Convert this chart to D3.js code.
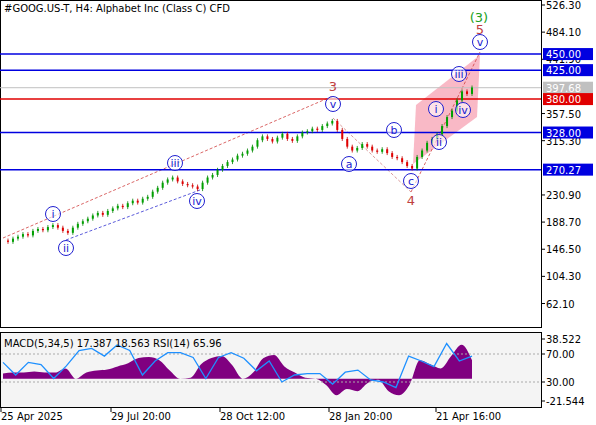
<!DOCTYPE html>
<html><head><meta charset="utf-8">
<script src="https://cdn.jsdelivr.net/npm/d3@7"></script>
<style>body{margin:0;background:#fff}text{font-family:Tahoma,"DejaVu Sans",sans-serif}</style>
</head><body><div id="chart"></div>
<script>
// price closes (H4, sampled)
const closes = [160,158,163,166,170,168,175,178,176,181,184,180,175,172,180,186,190,194,199,203,200,206,210,214,212,218,222,219,225,228,236,242,250,255,258,252,248,246,244,240,250,258,262,270,276,282,286,292,295,300,306,316,322,318,314,320,326,318,315,322,328,330,334,332,338,342,346,332,318,306,300,304,310,306,300,298,302,296,290,288,282,276,272,290,300,312,318,325,338,352,362,378,392,388,398];
const hist = [5,6,6,7,6,6,10,0,6,8,9,12,15,20,21,18,8,0,1,14,20,22,13,0,6,20,23,12,6,1,0,-6,-16,-10,-12,-4,-1,-12,-16,-6,18,14,10,22,33,18];
const rsi = [58,40,58,55,35,53,75,78,67,83,75,40,60,72,72,65,35,65,72,64,46,60,30,40,42,42,27,44,47,33,30,22,67,60,52,85,60,67];
const priceTicks = [526.30,484.10,441.90,357.50,315.30,230.90,188.70,146.50,104.30,62.10];
const levels = [{v:450,c:"#0000e0"},{v:425,c:"#0000e0"},{v:380,c:"#e00000"},{v:328,c:"#0000e0"},{v:270.27,c:"#0000e0"}];
const lastPrice = 397.68;
const dateLabels = [["25 Apr 2025",0],["29 Jul 20:00",110],["28 Oct 12:00",219],["28 Jan 20:00",328],["21 Apr 16:00",435]];
const waves = [
  ["i",53,214,"b"],["ii",66,248,"b"],["iii",175,163,"b"],["iv",197,201,"b"],["v",333,104,"b"],["3",333,87,"r"],
  ["a",349,164,"b"],["b",394,130,"b"],["c",411,181,"b"],["4",411,201,"r"],
  ["i",436,109,"b"],["ii",439,142,"b"],["iii",459,74,"b"],["iv",463,110,"b"],["v",480,42,"b"],["5",480,30,"r"],["(3)",479,18,"g"]];

const W=596,H=425,R=541;
const svg=d3.select("#chart").append("svg").attr("width",W).attr("height",H);
svg.append("rect").attr("width",W).attr("height",H).attr("fill","#fff");
const y=d3.scaleLinear().domain([62.10,526.30]).range([303.5,5]);
const x=d3.scaleLinear().domain([0,closes.length-1]).range([3,472]);

svg.append("rect").attr("x",0.5).attr("y",0.5).attr("width",R).attr("height",327).attr("fill","none").attr("stroke","#000");
svg.append("rect").attr("x",0.5).attr("y",332.5).attr("width",R).attr("height",75).attr("fill","#f4f4f4").attr("stroke","#000");

svg.append("polygon").attr("points",[[413,164],[416,105],[480,55],[477,117]].join(" ")).attr("fill","#f7a8b8").attr("opacity",0.8);

const dash=(a,b,c)=>svg.append("line").attr("x1",a[0]).attr("y1",a[1]).attr("x2",b[0]).attr("y2",b[1]).attr("stroke",c).attr("stroke-dasharray","3,2").attr("stroke-width",0.8);
dash([3,238],[333,96],"#d04040");
dash([66,240],[200,190],"#3030d0");
dash([333,118],[411,192],"#d08080");
dash([411,192],[480,52],"#d04040");

svg.append("line").attr("x1",0).attr("x2",R).attr("y1",y(lastPrice)).attr("y2",y(lastPrice)).attr("stroke","#c0c0c0");
levels.forEach(l=>svg.append("line").attr("x1",0).attr("x2",R).attr("y1",y(l.v)).attr("y2",y(l.v)).attr("stroke",l.c).attr("stroke-width",1.5));

// candles
closes.forEach((c,i)=>{
  if(i===0) return;
  const o=closes[i-1], up=c>=o, xx=x(i);
  const t=y(Math.max(o,c)), b=y(Math.min(o,c));
  svg.append("line").attr("x1",xx).attr("x2",xx).attr("y1",t-2).attr("y2",b+2).attr("stroke",up?"#008000":"#c00000").attr("stroke-width",0.8);
  svg.append("rect").attr("x",xx-1).attr("y",t).attr("width",2).attr("height",Math.max(1,b-t)).attr("fill",up?"#00a000":"#e00000");
});

const col={b:"#2020d0",r:"#c04040",g:"#20a020"};
waves.forEach(([t,cx,cy,k])=>{
  if(k==="b") svg.append("circle").attr("cx",cx).attr("cy",cy).attr("r",7.5).attr("fill","#fff").attr("fill-opacity",0.6).attr("stroke",col.b);
  svg.append("text").attr("x",cx).attr("y",cy+4).attr("text-anchor","middle").attr("font-size",k==="b"?11:13).attr("fill",col[k]).text(t);
});

const ax=svg.append("g");
priceTicks.forEach(p=>{
  ax.append("line").attr("x1",R).attr("x2",R+4).attr("y1",y(p)).attr("y2",y(p)).attr("stroke","#000");
  ax.append("text").attr("x",R+5).attr("y",y(p)+4).attr("font-size",10).text(p.toFixed(2));
});
ax.append("rect").attr("x",R+2).attr("y",y(lastPrice)-6).attr("width",50).attr("height",12).attr("fill","#c0c0c0");
ax.append("text").attr("x",R+5).attr("y",y(lastPrice)+4).attr("font-size",10).attr("fill","#fff").text(lastPrice.toFixed(2));
levels.forEach(l=>{
  ax.append("rect").attr("x",R+2).attr("y",y(l.v)-6).attr("width",50).attr("height",12).attr("fill",l.c);
  ax.append("text").attr("x",R+5).attr("y",y(l.v)+4).attr("font-size",10).attr("fill","#fff").text(l.v.toFixed(2));
});
svg.append("text").attr("x",4).attr("y",12).attr("font-size",10).text("#GOOG.US-T, H4:  Alphabet Inc (Class C) CFD");

const yh=d3.scaleLinear().domain([-21.544,38.522]).range([401,339]);
const yr=d3.scaleLinear().domain([30,70]).range([382,354]);
const xh=d3.scaleLinear().domain([0,hist.length-1]).range([3,472]);
const xr=d3.scaleLinear().domain([0,rsi.length-1]).range([3,472]);
svg.append("path").datum(hist).attr("fill","#800080")
  .attr("d",d3.area().x((d,i)=>xh(i)).y0(yh(0)).y1(d=>yh(d)).curve(d3.curveMonotoneX));
[70,30].forEach(v=>svg.append("line").attr("x1",1).attr("x2",R).attr("y1",yr(v)).attr("y2",yr(v)).attr("stroke","#aaa").attr("stroke-dasharray","2,2"));
svg.append("path").datum(rsi).attr("fill","none").attr("stroke","#1e90ff").attr("stroke-width",1.3)
  .attr("d",d3.line().x((d,i)=>xr(i)).y(d=>yr(d)));
svg.append("text").attr("x",4).attr("y",347).attr("font-size",10).text("MACD(5,34,5) 17.387 18.563 RSI(14) 65.96");
[[38.522,yh],[70,yr],[30,yr],[-21.544,yh]].forEach(([v,s])=>{
  ax.append("line").attr("x1",R).attr("x2",R+4).attr("y1",s(v)).attr("y2",s(v)).attr("stroke","#000");
  ax.append("text").attr("x",R+5).attr("y",s(v)+4).attr("font-size",10).text(v%1?v.toFixed(3):v.toFixed(2));
});
dateLabels.forEach(([t,px])=>{
  svg.append("line").attr("x1",px+1).attr("x2",px+1).attr("y1",408).attr("y2",412).attr("stroke","#000");
  svg.append("text").attr("x",px+1).attr("y",420).attr("font-size",10).text(t);
});
</script></body></html>
